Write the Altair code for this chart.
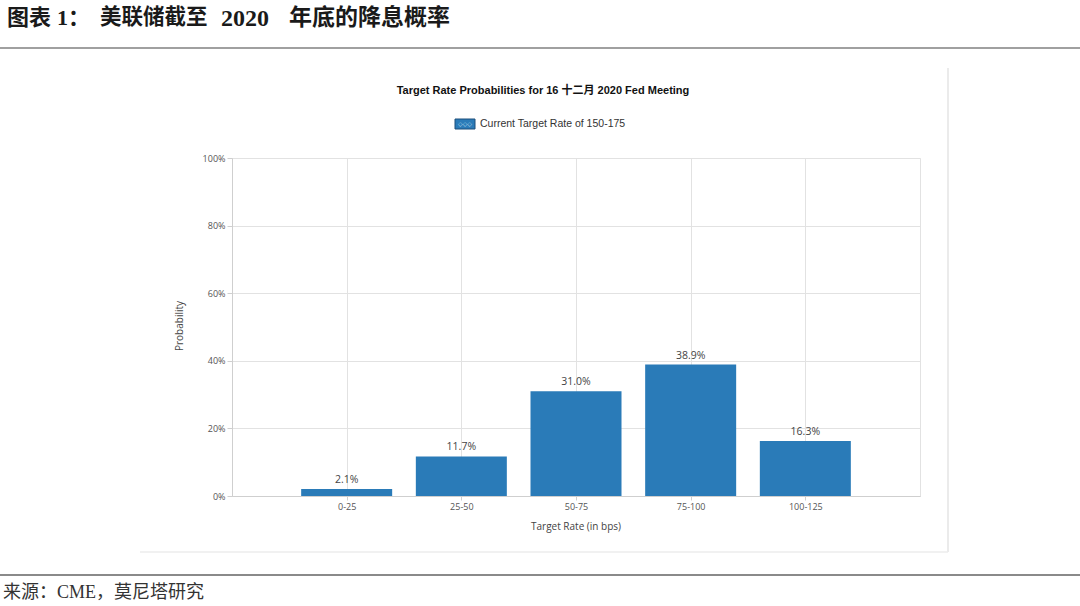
import altair as alt
import pandas as pd

# ---- data ----
categories = ["0-25", "25-50", "50-75", "75-100", "100-125"]
probabilities = [2.1, 11.7, 31.0, 38.9, 16.3]

header_parts = ["图表", "1：", "美联储截至", "2020", "年底的降息概率"]
chart_title = "Target Rate Probabilities for 16 十二月 2020 Fed Meeting"
legend_label = "Current Target Rate of 150-175"
y_title = "Probability"
x_title = "Target Rate (in bps)"
footer = "来源：CME，莫尼塔研究"
y_ticks = [0, 0.2, 0.4, 0.6, 0.8, 1.0]

df = pd.DataFrame({
    "cat": categories,
    "p": [v / 100 for v in probabilities],
    "lab": [f"{v:.1f}%" for v in probabilities],
})

W, H = 688, 338
PL, PT = 232, 158
BAR = "#2a7bb8"
SANS = "Liberation Sans, Arial, Noto Sans CJK SC"
LAB = "Open Sans, Liberation Sans, sans-serif"
SERIF = "Liberation Serif, DejaVu Serif, Noto Sans CJK SC"

xs = alt.Scale(type="point", domain=categories, padding=1)
ys = alt.Scale(domain=[0, 1], nice=False)

bars = alt.Chart(df).mark_bar(color=BAR, size=91).encode(
    x=alt.X("cat:N", scale=xs, sort=categories, axis=alt.Axis(
        title=None, labelAngle=0, labelFontSize=9, labelColor="#555", labelFont=LAB,
        tickColor="#cfcfcf", tickSize=4, labelPadding=2, domainColor="#cfcfcf",
        gridColor="#e2e2e2", grid=True)),
    y=alt.Y("p:Q", scale=ys, axis=alt.Axis(
        values=y_ticks, format=".0%", title=None, labelFontSize=9, labelColor="#555",
        labelFont=LAB, tickColor="#cfcfcf", tickSize=5, labelPadding=2,
        domainColor="#cfcfcf", gridColor="#e2e2e2")),
)

labels = alt.Chart(df).mark_text(baseline="bottom", dy=-4, fontSize=10.5, font=LAB, color="#444").encode(
    x=alt.X("cat:N", scale=xs, sort=categories),
    y=alt.Y("p:Q", scale=ys),
    text="lab:N",
)


def txt(s, x, y, **kw):
    return alt.Chart(pd.DataFrame({"t": [s]})).mark_text(**kw).encode(
        x=alt.value(x), y=alt.value(y), text="t:N")


def hline(x1, x2, y, color, w):
    return alt.Chart(pd.DataFrame({"a": [0]})).mark_rule(color=color, strokeWidth=w).encode(
        x=alt.value(x1), x2=alt.value(x2), y=alt.value(y))


def vline(x, y1, y2, color, w):
    return alt.Chart(pd.DataFrame({"a": [0]})).mark_rule(color=color, strokeWidth=w).encode(
        x=alt.value(x), y=alt.value(y1), y2=alt.value(y2))


HY = 18 - PT
hk = dict(baseline="middle", fontWeight="bold", font=SERIF, color="#1a1a1a")
header = [
    txt(header_parts[0], 7 - PL, HY, align="left", fontSize=22, **hk),
    txt(header_parts[1], 57 - PL, HY, align="left", fontSize=22, **hk),
    txt(header_parts[2], 100 - PL, HY, align="left", fontSize=21.5, **hk),
    txt(header_parts[3], 245 - PL, HY + 1, align="center", fontSize=24, **hk),
    txt(header_parts[4], 369.5 - PL, HY, align="center", fontSize=23, **hk),
]

deco = header + [
    hline(-PL, 1080 - PL, 48 - PT, "#a0a0a0", 2),
    hline(-PL, 1080 - PL, 575 - PT, "#8a8a8a", 2),
    txt(footer, 3 - PL, 593 - PT, align="left", baseline="middle", fontSize=18,
        font=SERIF, color="#333"),
    vline(948 - PL, 68 - PT, 552 - PT, "#e4e4e4", 1.5),
    hline(140 - PL, 948 - PL, 552 - PT, "#ececec", 1.5),
    txt(chart_title, 543 - PL, 91 - PT, align="center", baseline="middle", fontSize=11,
        fontWeight="bold", font=SANS, color="#111"),
    alt.Chart(pd.DataFrame({"a": [0]})).mark_rect(color=BAR, stroke="#1c4f7a", strokeWidth=1).encode(
        x=alt.value(455 - PL), x2=alt.value(475 - PL), y=alt.value(119 - PT), y2=alt.value(129 - PT)),
    txt("◇◇◇", 465 - PL, 124 - PT, align="center", baseline="middle", fontSize=6,
        font="DejaVu Sans", color="#cfe3f3"),
    txt(legend_label, 480 - PL, 124 - PT, align="left", baseline="middle", fontSize=10.5,
        font=SANS, color="#333"),
    txt(y_title, 180 - PL, 326 - PT, align="center", baseline="middle", fontSize=10,
        font=LAB, color="#444", angle=270),
    txt(x_title, 576 - PL, 527 - PT, align="center", baseline="middle", fontSize=10,
        font=LAB, color="#444"),
]

chart = alt.layer(bars, labels, *deco).properties(
    width=W, height=H,
    autosize=alt.AutoSizeParams(type="none"),
    padding={"left": PL, "top": PT, "right": 1080 - PL - W, "bottom": 606 - PT - H},
    background="white",
).configure_view(stroke="#e2e2e2", strokeWidth=1)

chart.save("out.html", embed_options={"renderer": "svg", "actions": False})
